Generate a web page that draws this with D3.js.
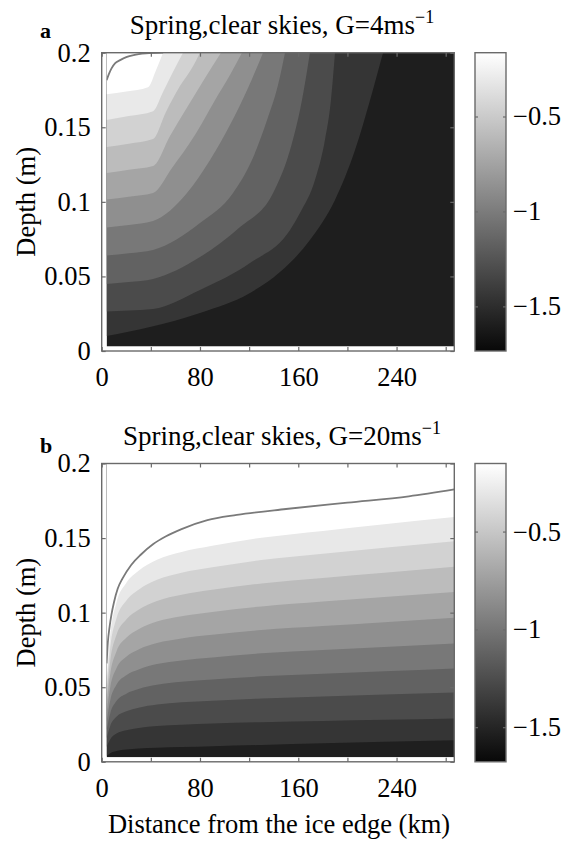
<!DOCTYPE html>
<html>
<head>
<meta charset="utf-8">
<script src="https://cdn.jsdelivr.net/npm/d3@7"></script>
<style>
  body { margin: 0; background: #fff; }
  svg text { font-family: "Liberation Serif", "Times New Roman", serif; fill: #000; }
</style>
</head>
<body>
<svg id="fig" width="572" height="841"></svg>
<script>
// ---- shared axes ----
const xDomain = [0, 287];              // distance from ice edge (km)
const yDomain = [0, 0.2];              // depth (m)
const gridStart = [4, 0.003];          // first model column (km) / row (m)
const xTicks = [0, 40, 80, 120, 160, 200, 240, 280];
const xTickLabels = [0, 80, 160, 240];
const yTicks = [0, 0.05, 0.1, 0.15, 0.2];
const cbarTicks = [-1.5, -1, -0.5];

const titles = ["Spring,clear skies, G=4ms", "Spring,clear skies, G=20ms"];
const titleSup = "\u22121";
const panelLetters = ["a", "b"];
const xLabel = "Distance from the ice edge (km)";
const yLabel = "Depth (m)";

// ---- panel a: G = 4 m/s ----
const rangeA = [-1.735, -0.164];
const levelsA = [-1.592, -1.449, -1.307, -1.164, -1.021, -0.878, -0.735, -0.592, -0.449, -0.307];
// each level traced as [distance km, depth m] from the left edge to where it meets the top
const boundariesA = [
  [[4,0.0101],[39.3,0.0161],[80,0.0255],[120.7,0.0389],[145.1,0.0529],[169.5,0.0744],[189.9,0.1012],[206.2,0.1347],[218.4,0.1682],[229,0.2]],
  [[4,0.0265],[22,0.0272],[41.8,0.0282],[80,0.0409],[120.7,0.059],[153.3,0.0811],[161.4,0.0925],[173.6,0.1146],[181.7,0.1414],[186.6,0.1682],[189.9,0.2]],
  [[4,0.0449],[22,0.0462],[41.8,0.0483],[80,0.063],[112.6,0.0831],[139.5,0.1059],[153.3,0.1347],[163,0.1682],[169.5,0.2]],
  [[4,0.064],[22,0.0655],[41.8,0.0677],[80,0.0858],[106.9,0.1059],[122.3,0.128],[134.6,0.1548],[143.5,0.1783],[149.2,0.2]],
  [[4,0.0828],[22,0.0845],[41.8,0.0871],[69.4,0.1059],[88.2,0.128],[104.4,0.1515],[119.1,0.1763],[131.3,0.2]],
  [[4,0.1015],[22,0.1035],[41.8,0.106],[57.2,0.1227],[75.9,0.1448],[92.2,0.1682],[104.4,0.185],[114.2,0.2]],
  [[4,0.1193],[22,0.1215],[41.8,0.124],[55.6,0.1441],[70.2,0.1642],[84.1,0.183],[97.1,0.2]],
  [[4,0.1367],[22,0.139],[41.8,0.1421],[52.3,0.1602],[63.7,0.1776],[73.5,0.1897],[80,0.2]],
  [[4,0.1548],[22,0.1575],[41.8,0.1608],[49.9,0.1736],[58,0.187],[66.2,0.2]],
  [[4,0.1722],[20,0.174],[37.7,0.1769],[44.2,0.1883],[49.9,0.2]]
];
const lineA = [[4,0.1816],[6,0.186],[8,0.1895],[11,0.193],[15,0.195],[20,0.197],[26,0.1984],[36,0.1995],[50,0.2]];

// ---- panel b: G = 20 m/s ----
const rangeB = [-1.677, -0.152];
const levelsB = [-1.538, -1.400, -1.261, -1.122, -0.984, -0.845, -0.707, -0.568, -0.429, -0.291];
const distB = [4, 7, 12, 20, 30, 45, 65, 90, 130, 180, 230, 287];
// depth (m) of each level at the distances in distB
const depthsB = [
  [0.0040, 0.0058, 0.0072, 0.0082, 0.0089, 0.0095, 0.0099, 0.0104, 0.0113, 0.0124, 0.0135, 0.0145],
  [0.0099, 0.0151, 0.0189, 0.0212, 0.0227, 0.0240, 0.0249, 0.0257, 0.0266, 0.0274, 0.0282, 0.0291],
  [0.0158, 0.0242, 0.0302, 0.0339, 0.0363, 0.0384, 0.0399, 0.0410, 0.0425, 0.0438, 0.0451, 0.0465],
  [0.0213, 0.0326, 0.0407, 0.0457, 0.0488, 0.0516, 0.0536, 0.0552, 0.0573, 0.0590, 0.0607, 0.0626],
  [0.0270, 0.0413, 0.0516, 0.0580, 0.0619, 0.0655, 0.0680, 0.0700, 0.0727, 0.0749, 0.0770, 0.0794],
  [0.0328, 0.0502, 0.0627, 0.0704, 0.0753, 0.0796, 0.0827, 0.0851, 0.0883, 0.0910, 0.0936, 0.0965],
  [0.0387, 0.0592, 0.0740, 0.0831, 0.0888, 0.0940, 0.0976, 0.1005, 0.1042, 0.1074, 0.1105, 0.1139],
  [0.0444, 0.0680, 0.0850, 0.0954, 0.1019, 0.1078, 0.1120, 0.1153, 0.1196, 0.1233, 0.1268, 0.1307],
  [0.0503, 0.0769, 0.0961, 0.1080, 0.1154, 0.1220, 0.1268, 0.1304, 0.1353, 0.1395, 0.1435, 0.1479],
  [0.0558, 0.0854, 0.1067, 0.1199, 0.1281, 0.1355, 0.1407, 0.1448, 0.1502, 0.1548, 0.1593, 0.1642]
];
const lineBx = [4, 5, 6.5, 8, 10, 13, 17, 24, 32, 42, 52, 65, 86, 110, 150, 200, 250, 287];
const lineBd = [0.066, 0.080, 0.091, 0.099, 0.107, 0.116, 0.123, 0.132, 0.139, 0.146, 0.151, 0.156, 0.162, 0.1655, 0.1695, 0.1738, 0.178, 0.1826];

// ---- layout ----
const plotLeft = 101.7, plotRight = 454.3;
const cbLeft = 475, cbWidth = 31;
const fontSize = 26.5;
const axisColor = "#6a6a6a";

const panels = [
  { top: 52.7, bottom: 351, range: rangeA, levels: levelsA, bounds: boundariesA, line: lineA,
    title: titles[0], letter: panelLetters[0], titleY: 33.5, letterY: 38 },
  { top: 463.5, bottom: 761.8, range: rangeB, levels: levelsB,
    bounds: depthsB.map(row => distB.map((d, i) => [d, row[i]])),
    line: lineBx.map((d, i) => [d, lineBd[i]]),
    title: titles[1], letter: panelLetters[1], titleY: 445, letterY: 453 }
];

const svg = d3.select("#fig");
const defs = svg.append("defs");
const x = d3.scaleLinear().domain(xDomain).range([plotLeft, plotRight]);
const fmt = d3.format("");

function styleAxis(sel) {
  sel.attr("font-size", fontSize)
     .attr("font-family", "Liberation Serif, Times New Roman, serif")
     .attr("color", axisColor);
  sel.select(".domain").remove();
  sel.selectAll(".tick line").attr("stroke-width", 1.2);
  sel.selectAll(".tick text").attr("fill", "#000");
}

panels.forEach((p, pi) => {
  const y = d3.scaleLinear().domain(yDomain).range([p.bottom, p.top]);
  const cmap = d3.scaleLinear().domain(p.range).range(["#080808", "#ffffff"]);
  const g = svg.append("g");

  // filled temperature bands, darkest first
  const clipId = "field-clip-" + pi;
  defs.append("clipPath").attr("id", clipId).append("rect")
    .attr("x", x(gridStart[0])).attr("y", y(yDomain[1]))
    .attr("width", x(xDomain[1]) - x(gridStart[0]))
    .attr("height", y(gridStart[1]) - y(yDomain[1]));
  const field = g.append("g").attr("clip-path", `url(#${clipId})`);
  field.append("rect")
    .attr("x", x(gridStart[0])).attr("y", y(yDomain[1]))
    .attr("width", x(xDomain[1]) - x(gridStart[0]))
    .attr("height", y(gridStart[1]) - y(yDomain[1]))
    .attr("fill", cmap(p.levels[0]));
  const area = d3.area()
    .x(d => x(d[0])).y0(y(yDomain[1])).y1(d => y(d[1]))
    .curve(d3.curveMonotoneX);
  p.bounds.forEach((b, i) => {
    const upper = i + 1 < p.levels.length ? p.levels[i + 1] : p.range[1];
    field.append("path").attr("d", area(b)).attr("fill", cmap(upper));
  });
  field.append("path")
    .attr("d", d3.line().x(d => x(d[0])).y(d => y(d[1])).curve(d3.curveMonotoneX)(p.line))
    .attr("fill", "none").attr("stroke", "#7a7a7a").attr("stroke-width", 1.8);

  // axes box and ticks
  g.append("g").attr("transform", `translate(0,${p.bottom})`)
    .call(d3.axisBottom(x).tickValues(xTicks).tickSizeInner(-4).tickSizeOuter(0).tickPadding(16)
      .tickFormat(d => xTickLabels.includes(d) ? fmt(d) : ""))
    .call(styleAxis);
  g.append("g").attr("transform", `translate(0,${p.top})`)
    .call(d3.axisTop(x).tickValues(xTicks).tickSizeInner(-4).tickSizeOuter(0).tickFormat(""))
    .call(styleAxis);
  g.append("g").attr("transform", `translate(${plotLeft},0)`)
    .call(d3.axisLeft(y).tickValues(yTicks).tickSizeInner(-4).tickSizeOuter(0).tickPadding(11).tickFormat(fmt))
    .call(styleAxis);
  g.append("g").attr("transform", `translate(${plotRight},0)`)
    .call(d3.axisRight(y).tickValues(yTicks).tickSizeInner(-4).tickSizeOuter(0).tickFormat(""))
    .call(styleAxis);
  g.append("rect")
    .attr("x", plotLeft).attr("y", p.top)
    .attr("width", plotRight - plotLeft).attr("height", p.bottom - p.top)
    .attr("fill", "none").attr("stroke", axisColor).attr("stroke-width", 1.4);

  // colour bar
  const gradId = "cbar-grad-" + pi;
  const grad = defs.append("linearGradient").attr("id", gradId)
    .attr("x1", 0).attr("y1", 1).attr("x2", 0).attr("y2", 0);
  grad.append("stop").attr("offset", 0).attr("stop-color", cmap(p.range[0]));
  grad.append("stop").attr("offset", 1).attr("stop-color", cmap(p.range[1]));
  const cy = d3.scaleLinear().domain(p.range).range([p.bottom, p.top]);
  g.append("rect")
    .attr("x", cbLeft).attr("y", p.top).attr("width", cbWidth).attr("height", p.bottom - p.top)
    .attr("fill", `url(#${gradId})`);
  g.append("g").attr("transform", `translate(${cbLeft + cbWidth},0)`)
    .call(d3.axisRight(cy).tickValues(cbarTicks).tickSizeInner(-3).tickSizeOuter(0).tickPadding(7).tickFormat(fmt))
    .call(styleAxis);
  g.append("g").attr("transform", `translate(${cbLeft},0)`)
    .call(d3.axisLeft(cy).tickValues(cbarTicks).tickSizeInner(-3).tickSizeOuter(0).tickFormat(""))
    .call(styleAxis);
  g.append("rect")
    .attr("x", cbLeft).attr("y", p.top).attr("width", cbWidth).attr("height", p.bottom - p.top)
    .attr("fill", "none").attr("stroke", axisColor).attr("stroke-width", 1.4);

  // title with superscript unit
  const t = g.append("text").attr("x", 282).attr("y", p.titleY)
    .attr("text-anchor", "middle").attr("font-size", 27);
  t.append("tspan").text(p.title);
  t.append("tspan").attr("dy", -11).attr("font-size", 18).text(titleSup);

  // panel letter
  g.append("text").attr("x", 40).attr("y", p.letterY)
    .attr("font-size", 22).attr("font-weight", "bold").text(p.letter);

  // depth label
  g.append("text")
    .attr("transform", `translate(35,${(p.top + p.bottom) / 2}) rotate(-90)`)
    .attr("text-anchor", "middle").attr("font-size", fontSize).text(yLabel);
});

svg.append("text").attr("x", 279).attr("y", 833)
  .attr("text-anchor", "middle").attr("font-size", fontSize).text(xLabel);
</script>
</body>
</html>
